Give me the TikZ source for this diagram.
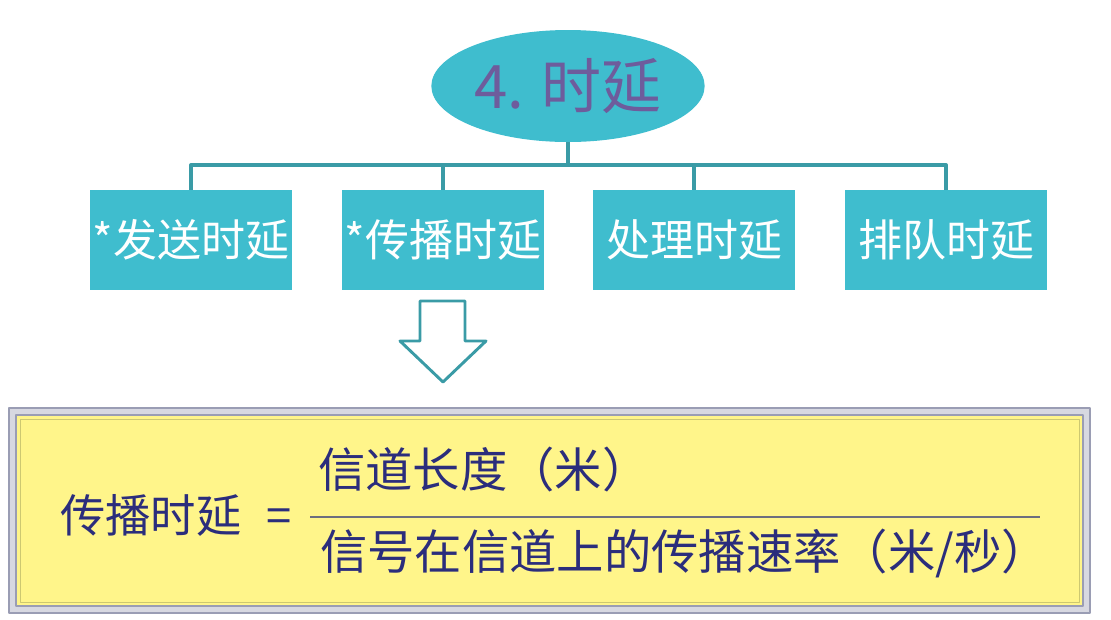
\documentclass[tikz,border=0pt]{standalone}
\usepackage{fontspec}
\setmainfont{Noto Sans CJK SC}
\definecolor{delaycyan}{HTML}{3FBDCE}
\definecolor{delayline}{HTML}{3A9BA6}
\definecolor{delaytitle}{HTML}{6E5C9C}
\definecolor{formulaink}{HTML}{2B2D7C}
\definecolor{formulapad}{HTML}{FFF58A}
\definecolor{formulaframe}{HTML}{9A9DB4}
\usetikzlibrary{shapes.geometric}

\begin{document}
\begin{tikzpicture}[
  x=0.75pt,
  y=-0.75pt,
  line join=round,
  title/.style={ellipse,fill=delaycyan,draw=none,minimum width=205pt,minimum height=84pt,
    inner sep=0pt,text=delaytitle,font=\fontsize{45}{54}\selectfont},
  kind/.style={rectangle,fill=delaycyan,draw=none,minimum width=152pt,minimum height=75pt,
    inner sep=0pt,text=white,font=\fontsize{33}{39}\selectfont},
  link/.style={draw=delayline,line width=3pt},
  hollow/.style={draw=delayline,line width=2.2pt,fill=white},
  term/.style={inner sep=0pt,text=formulaink,font=\fontsize{35.5}{42}\selectfont}
]
  \useasboundingbox (0,0) rectangle (1111,619);

  % Root of the tree and the four kinds of delay.
  \node[title] (delay) at (568,86) {4. 时延};
  \node[kind] (send)  at (191,240) {*发送时延};
  \node[kind] (prop)  at (443,240) {*传播时延};
  \node[kind] (proc)  at (694,240) {处理时延};
  \node[kind] (queue) at (946,240) {排队时延};

  % Bus connecting the root with every box.
  \coordinate (bus) at (568,165);
  \draw[link] (delay.south) -- (bus);
  \draw[link] (send.north) |- (bus) -| (queue.north);
  \draw[link] (prop.north) -- (prop.north |- bus);
  \draw[link] (proc.north) -- (proc.north |- bus);

  % Hollow arrow pointing to the formula.
  \draw[hollow] (420,301) -- (465,301) -- (465,341) -- (486,341) -- (443,382)
    -- (400,341) -- (420,341) -- cycle;

  % Yellow pad with its double frame.
  \draw[draw=formulaframe,line width=2pt,fill=formulaframe!40] (9,408) rectangle (1090,613);
  \draw[draw=formulaframe,line width=1.6pt,fill=formulapad] (16,415) rectangle (1083,606);
  \draw[draw=olive!45,line width=0.6pt] (20,419) rectangle (1079,602);

  % Propagation delay as a fraction.
  \node[term,anchor=west,font=\fontsize{34}{40}\selectfont] (lhs) at (60,515) {传播时延\hspace{0.55em}=};
  \node[term,anchor=west] (num) at (318,470) {信道长度（米）};
  \node[term,anchor=west] (den) at (320,553) {信号在信道上的传播速率（米/秒）};
  \draw[draw=formulaframe!70!black,line width=2.2pt] (310,517) -- (1040,517);
\end{tikzpicture}
\end{document}
